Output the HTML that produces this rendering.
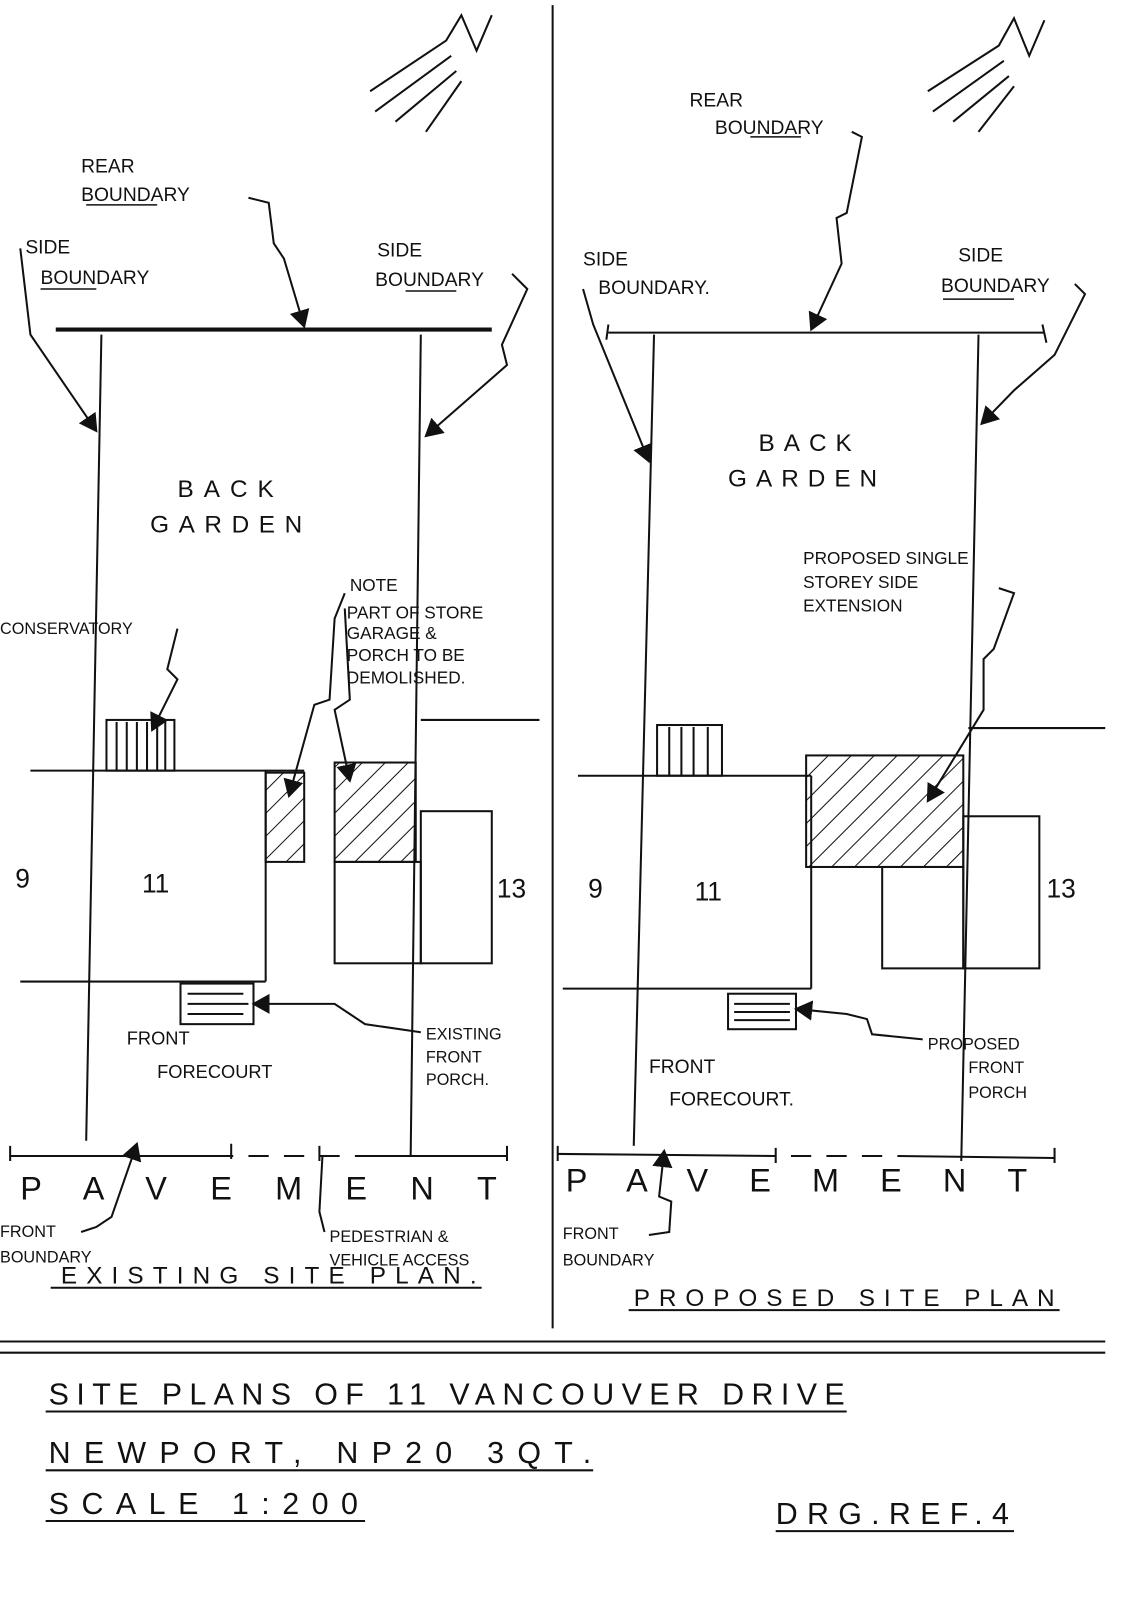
<!DOCTYPE html>
<html><head><meta charset="utf-8"><style>
html,body{margin:0;padding:0;background:#fff}
svg{display:block}
text{font-family:"Liberation Sans",sans-serif;fill:#111}
</style></head><body>
<svg width="1131" height="1600" viewBox="0 0 1131 1600" xmlns="http://www.w3.org/2000/svg">
<defs>
<pattern id="h" width="16" height="16" patternUnits="userSpaceOnUse" patternTransform="rotate(45)">
<line x1="0" y1="0" x2="0" y2="16" stroke="#111" stroke-width="2"/></pattern>
<marker id="a" markerWidth="10" markerHeight="10" refX="8" refY="5" orient="auto"><path d="M0,0 L9,5 L0,10 z" fill="#111"/></marker>
</defs>
<g transform="scale(1.014)">
<g stroke="#111" fill="none" stroke-width="2">
<line x1="545" y1="5" x2="545" y2="1310"/>
<line x1="0" y1="1323" x2="1090" y2="1323"/>
<line x1="0" y1="1334" x2="1090" y2="1334"/>

<path d="M365 90 L440 40 L455 15 L470 50 L485 15 M370 110 L445 55 M390 120 L450 70 M420 130 L455 80"/>
<path d="M915 90 L985 45 L1000 18 L1015 55 L1030 20 M920 110 L990 60 M940 120 L995 75 M965 130 L1000 85"/>

<line x1="55" y1="325" x2="485" y2="325" stroke-width="4"/>
<line x1="100" y1="330" x2="85" y2="1125"/>
<line x1="415" y1="330" x2="405" y2="1140"/>
<line x1="30" y1="760" x2="300" y2="760"/>
<line x1="20" y1="968" x2="262" y2="968"/>
<line x1="262" y1="760" x2="262" y2="968"/>
<rect x="105" y="710" width="67" height="50"/>
<path d="M115 712v48M125 712v48M135 712v48M145 712v48M155 712v48M163 712v48"/>
<rect x="262" y="762" width="38" height="88" fill="url(#h)"/>
<rect x="330" y="752" width="80" height="98" fill="url(#h)"/>
<rect x="330" y="850" width="85" height="100"/>
<rect x="415" y="800" width="70" height="150"/>
<line x1="415" y1="710" x2="532" y2="710"/>
<rect x="178" y="970" width="72" height="40"/>
<path d="M185 980h55M185 990h60M185 1000h55"/>
<path d="M10 1140 L230 1140 M245 1140 h20 M280 1140h20 M315 1140h20 M350 1140 L500 1140" />
<path d="M10 1130 v15 M228 1128v15 M315 1130v15 M500 1130v15"/>
<path d="M20 245 L30 330 L95 425" marker-end="url(#a)"/>
<path d="M245 195 L265 200 L270 240 L280 255 L300 322" marker-end="url(#a)"/>
<path d="M505 270 L520 285 L495 340 L500 360 L420 430" marker-end="url(#a)"/>
<path d="M175 620 L165 660 L175 670 L150 720" marker-end="url(#a)"/>
<path d="M340 585 L330 610 L325 690 L310 695 L285 785" marker-end="url(#a)"/>
<path d="M340 600 L345 690 L330 700 L345 770" marker-end="url(#a)"/>
<path d="M415 1018 L360 1010 L345 1000 L330 990 L250 990" marker-end="url(#a)"/>
<path d="M80 1215 L95 1210 L110 1200 L135 1128" marker-end="url(#a)"/>
<path d="M320 1215 L315 1195 L318 1140"/>
<line x1="50" y1="1270" x2="475" y2="1270"/>

<line x1="600" y1="328" x2="1030" y2="328"/>
<path d="M600 320 L598 335 M1028 320 L1032 338"/>
<line x1="645" y1="330" x2="625" y2="1130"/>
<line x1="965" y1="330" x2="948" y2="1145"/>
<line x1="570" y1="765" x2="800" y2="765"/>
<line x1="555" y1="975" x2="800" y2="975"/>
<line x1="800" y1="765" x2="800" y2="975"/>
<rect x="648" y="715" width="64" height="50"/>
<path d="M660 717v48M672 717v48M684 717v48M698 717v48"/>
<rect x="795" y="745" width="155" height="110" fill="url(#h)"/>
<rect x="870" y="855" width="80" height="100"/>
<rect x="950" y="805" width="75" height="150"/>
<line x1="955" y1="718" x2="1090" y2="718"/>
<rect x="718" y="980" width="67" height="35"/>
<path d="M724 990h55M724 998h55M724 1006h55"/>
<path d="M550 1138 L765 1140 M780 1140h20M815 1140h20M850 1140h20M885 1140 L1040 1142"/>
<path d="M550 1130v15 M765 1132v15 M1040 1132v15"/>
<path d="M575 285 L585 320 L640 455" marker-end="url(#a)"/>
<path d="M840 130 L850 135 L835 210 L825 215 L830 260 L800 325" marker-end="url(#a)"/>
<path d="M1060 280 L1070 290 L1040 350 L1000 385 L968 418" marker-end="url(#a)"/>
<path d="M985 580 L1000 585 L980 640 L970 650 L970 700 L915 790" marker-end="url(#a)"/>
<path d="M910 1025 L860 1020 L855 1005 L835 1000 L785 995" marker-end="url(#a)"/>
<path d="M640 1218 L660 1215 L662 1185 L650 1180 L655 1135" marker-end="url(#a)"/>
<line x1="620" y1="1292" x2="1045" y2="1292"/>

<line x1="45" y1="1392" x2="835" y2="1392"/>
<line x1="45" y1="1450" x2="585" y2="1450"/>
<line x1="45" y1="1500" x2="360" y2="1500"/>
<line x1="765" y1="1510" x2="1000" y2="1510"/>
<line x1="85" y1="202" x2="155" y2="202" stroke-width="1.5"/>
<line x1="40" y1="285" x2="95" y2="285" stroke-width="1.5"/>
<line x1="400" y1="287" x2="450" y2="287" stroke-width="1.5"/>
<line x1="740" y1="135" x2="790" y2="135" stroke-width="1.5"/>
<line x1="930" y1="295" x2="1000" y2="295" stroke-width="1.5"/>
</g>

<g font-size="19">
<text x="80" y="170">REAR</text>
<text x="80" y="198">BOUNDARY</text>
<text x="25" y="250">SIDE</text>
<text x="40" y="280">BOUNDARY</text>
<text x="372" y="253">SIDE</text>
<text x="370" y="282">BOUNDARY</text>
<text x="175" y="490" font-size="24" textLength="95" lengthAdjust="spacing">BACK</text>
<text x="148" y="525" font-size="24" textLength="150" lengthAdjust="spacing">GARDEN</text>
<text x="0" y="625" font-size="16">CONSERVATORY</text>
<text x="345" y="583" font-size="17">NOTE</text>
<text x="342" y="610" font-size="17">PART OF STORE</text>
<text x="342" y="630" font-size="17">GARAGE &amp;</text>
<text x="342" y="652" font-size="17">PORCH TO BE</text>
<text x="342" y="674" font-size="17">DEMOLISHED.</text>
<text x="15" y="875" font-size="26">9</text>
<text x="140" y="880" font-size="26">11</text>
<text x="490" y="885" font-size="26">13</text>
<text x="125" y="1030" font-size="18">FRONT</text>
<text x="155" y="1063" font-size="18">FORECOURT</text>
<text x="420" y="1025" font-size="16">EXISTING</text>
<text x="420" y="1048" font-size="16">FRONT</text>
<text x="420" y="1070" font-size="16">PORCH.</text>
<text x="20" y="1183" font-size="32" textLength="470" lengthAdjust="spacing">PAVEMENT</text>
<text x="0" y="1220" font-size="16">FRONT</text>
<text x="0" y="1245" font-size="16">BOUNDARY</text>
<text x="325" y="1225" font-size="16">PEDESTRIAN &amp;</text>
<text x="325" y="1248" font-size="16">VEHICLE ACCESS</text>
<text x="60" y="1266" font-size="24" textLength="410" lengthAdjust="spacing">EXISTING SITE PLAN.</text>

<text x="680" y="105">REAR</text>
<text x="705" y="132">BOUNDARY</text>
<text x="575" y="262">SIDE</text>
<text x="590" y="290">BOUNDARY.</text>
<text x="945" y="258">SIDE</text>
<text x="928" y="288">BOUNDARY</text>
<text x="748" y="445" font-size="24" textLength="92" lengthAdjust="spacing">BACK</text>
<text x="718" y="480" font-size="24" textLength="147" lengthAdjust="spacing">GARDEN</text>
<text x="792" y="556" font-size="17">PROPOSED SINGLE</text>
<text x="792" y="580" font-size="17">STOREY SIDE</text>
<text x="792" y="603" font-size="17">EXTENSION</text>
<text x="580" y="885" font-size="26">9</text>
<text x="685" y="888" font-size="26">11</text>
<text x="1032" y="885" font-size="26">13</text>
<text x="640" y="1058" font-size="19">FRONT</text>
<text x="660" y="1090" font-size="19">FORECOURT.</text>
<text x="915" y="1035" font-size="16">PROPOSED</text>
<text x="955" y="1058" font-size="16">FRONT</text>
<text x="955" y="1083" font-size="16">PORCH</text>
<text x="558" y="1175" font-size="32" textLength="455" lengthAdjust="spacing">PAVEMENT</text>
<text x="555" y="1222" font-size="16">FRONT</text>
<text x="555" y="1248" font-size="16">BOUNDARY</text>
<text x="625" y="1288" font-size="24" textLength="415" lengthAdjust="spacing">PROPOSED SITE PLAN</text>

<text x="48" y="1385" font-size="30" textLength="785" lengthAdjust="spacing">SITE PLANS OF 11 VANCOUVER DRIVE</text>
<text x="48" y="1443" font-size="30" textLength="535" lengthAdjust="spacing">NEWPORT, NP20 3QT.</text>
<text x="48" y="1493" font-size="30" textLength="305" lengthAdjust="spacing">SCALE 1:200</text>
<text x="765" y="1503" font-size="30" textLength="230" lengthAdjust="spacing">DRG.REF.4</text>
</g>
</g>
</svg>
</body></html>
